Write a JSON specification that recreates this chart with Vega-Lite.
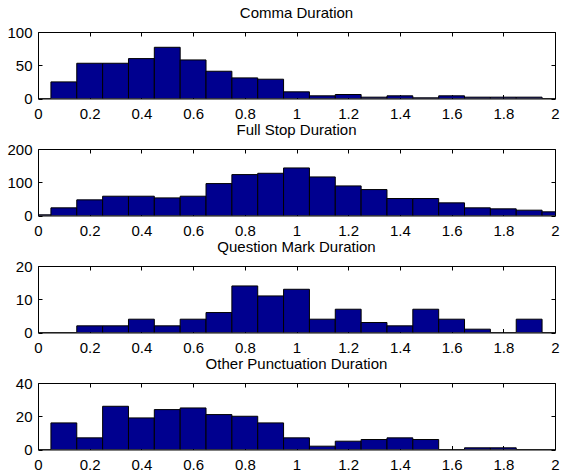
{
  "$schema": "https://vega.github.io/schema/vega-lite/v6.json",
  "padding": {"left": 6, "top": 5, "right": 4, "bottom": 4},
  "background": "#ffffff",
  "datasets": {
    "hist": [
      {"panel": "Comma", "lo": -0.05, "hi": 0.05, "count": 0},
      {"panel": "Comma", "lo": 0.05, "hi": 0.15, "count": 25},
      {"panel": "Comma", "lo": 0.15, "hi": 0.25, "count": 53},
      {"panel": "Comma", "lo": 0.25, "hi": 0.35, "count": 53},
      {"panel": "Comma", "lo": 0.35, "hi": 0.45, "count": 60},
      {"panel": "Comma", "lo": 0.45, "hi": 0.55, "count": 77},
      {"panel": "Comma", "lo": 0.55, "hi": 0.65, "count": 58},
      {"panel": "Comma", "lo": 0.65, "hi": 0.75, "count": 41},
      {"panel": "Comma", "lo": 0.75, "hi": 0.85, "count": 31},
      {"panel": "Comma", "lo": 0.85, "hi": 0.95, "count": 29},
      {"panel": "Comma", "lo": 0.95, "hi": 1.05, "count": 10},
      {"panel": "Comma", "lo": 1.05, "hi": 1.15, "count": 4},
      {"panel": "Comma", "lo": 1.15, "hi": 1.25, "count": 6},
      {"panel": "Comma", "lo": 1.25, "hi": 1.35, "count": 2},
      {"panel": "Comma", "lo": 1.35, "hi": 1.45, "count": 4},
      {"panel": "Comma", "lo": 1.45, "hi": 1.55, "count": 1},
      {"panel": "Comma", "lo": 1.55, "hi": 1.65, "count": 4},
      {"panel": "Comma", "lo": 1.65, "hi": 1.75, "count": 2},
      {"panel": "Comma", "lo": 1.75, "hi": 1.85, "count": 2},
      {"panel": "Comma", "lo": 1.85, "hi": 1.95, "count": 2},
      {"panel": "Comma", "lo": 1.95, "hi": 2.05, "count": 0},

      {"panel": "Full", "lo": -0.05, "hi": 0.05, "count": 2},
      {"panel": "Full", "lo": 0.05, "hi": 0.15, "count": 23},
      {"panel": "Full", "lo": 0.15, "hi": 0.25, "count": 47},
      {"panel": "Full", "lo": 0.25, "hi": 0.35, "count": 58},
      {"panel": "Full", "lo": 0.35, "hi": 0.45, "count": 58},
      {"panel": "Full", "lo": 0.45, "hi": 0.55, "count": 53},
      {"panel": "Full", "lo": 0.55, "hi": 0.65, "count": 58},
      {"panel": "Full", "lo": 0.65, "hi": 0.75, "count": 96},
      {"panel": "Full", "lo": 0.75, "hi": 0.85, "count": 123},
      {"panel": "Full", "lo": 0.85, "hi": 0.95, "count": 127},
      {"panel": "Full", "lo": 0.95, "hi": 1.05, "count": 143},
      {"panel": "Full", "lo": 1.05, "hi": 1.15, "count": 116},
      {"panel": "Full", "lo": 1.15, "hi": 1.25, "count": 89},
      {"panel": "Full", "lo": 1.25, "hi": 1.35, "count": 78},
      {"panel": "Full", "lo": 1.35, "hi": 1.45, "count": 51},
      {"panel": "Full", "lo": 1.45, "hi": 1.55, "count": 51},
      {"panel": "Full", "lo": 1.55, "hi": 1.65, "count": 38},
      {"panel": "Full", "lo": 1.65, "hi": 1.75, "count": 23},
      {"panel": "Full", "lo": 1.75, "hi": 1.85, "count": 20},
      {"panel": "Full", "lo": 1.85, "hi": 1.95, "count": 16},
      {"panel": "Full", "lo": 1.95, "hi": 2.05, "count": 11},

      {"panel": "Question", "lo": -0.05, "hi": 0.05, "count": 0},
      {"panel": "Question", "lo": 0.05, "hi": 0.15, "count": 0},
      {"panel": "Question", "lo": 0.15, "hi": 0.25, "count": 2},
      {"panel": "Question", "lo": 0.25, "hi": 0.35, "count": 2},
      {"panel": "Question", "lo": 0.35, "hi": 0.45, "count": 4},
      {"panel": "Question", "lo": 0.45, "hi": 0.55, "count": 2},
      {"panel": "Question", "lo": 0.55, "hi": 0.65, "count": 4},
      {"panel": "Question", "lo": 0.65, "hi": 0.75, "count": 6},
      {"panel": "Question", "lo": 0.75, "hi": 0.85, "count": 14},
      {"panel": "Question", "lo": 0.85, "hi": 0.95, "count": 11},
      {"panel": "Question", "lo": 0.95, "hi": 1.05, "count": 13},
      {"panel": "Question", "lo": 1.05, "hi": 1.15, "count": 4},
      {"panel": "Question", "lo": 1.15, "hi": 1.25, "count": 7},
      {"panel": "Question", "lo": 1.25, "hi": 1.35, "count": 3},
      {"panel": "Question", "lo": 1.35, "hi": 1.45, "count": 2},
      {"panel": "Question", "lo": 1.45, "hi": 1.55, "count": 7},
      {"panel": "Question", "lo": 1.55, "hi": 1.65, "count": 4},
      {"panel": "Question", "lo": 1.65, "hi": 1.75, "count": 1},
      {"panel": "Question", "lo": 1.75, "hi": 1.85, "count": 0},
      {"panel": "Question", "lo": 1.85, "hi": 1.95, "count": 4},
      {"panel": "Question", "lo": 1.95, "hi": 2.05, "count": 0},

      {"panel": "Other", "lo": -0.05, "hi": 0.05, "count": 0},
      {"panel": "Other", "lo": 0.05, "hi": 0.15, "count": 16},
      {"panel": "Other", "lo": 0.15, "hi": 0.25, "count": 7},
      {"panel": "Other", "lo": 0.25, "hi": 0.35, "count": 26},
      {"panel": "Other", "lo": 0.35, "hi": 0.45, "count": 19},
      {"panel": "Other", "lo": 0.45, "hi": 0.55, "count": 24},
      {"panel": "Other", "lo": 0.55, "hi": 0.65, "count": 25},
      {"panel": "Other", "lo": 0.65, "hi": 0.75, "count": 21},
      {"panel": "Other", "lo": 0.75, "hi": 0.85, "count": 20},
      {"panel": "Other", "lo": 0.85, "hi": 0.95, "count": 16},
      {"panel": "Other", "lo": 0.95, "hi": 1.05, "count": 7},
      {"panel": "Other", "lo": 1.05, "hi": 1.15, "count": 2},
      {"panel": "Other", "lo": 1.15, "hi": 1.25, "count": 5},
      {"panel": "Other", "lo": 1.25, "hi": 1.35, "count": 6},
      {"panel": "Other", "lo": 1.35, "hi": 1.45, "count": 7},
      {"panel": "Other", "lo": 1.45, "hi": 1.55, "count": 6},
      {"panel": "Other", "lo": 1.55, "hi": 1.65, "count": 0},
      {"panel": "Other", "lo": 1.65, "hi": 1.75, "count": 1},
      {"panel": "Other", "lo": 1.75, "hi": 1.85, "count": 1},
      {"panel": "Other", "lo": 1.85, "hi": 1.95, "count": 0},
      {"panel": "Other", "lo": 1.95, "hi": 2.05, "count": 0}
    ]
  },
  "data": {"name": "hist"},
  "spacing": 50,
  "bounds": "flush",
  "vconcat": [
    {
      "title": "Comma Duration",
      "width": 517, "height": 66.5,
      "transform": [{"filter": "datum.panel === 'Comma'"}],
      "layer": [
        {"mark": {"type": "bar", "clip": true, "fill": "#00008F", "stroke": "#000000", "strokeWidth": 1},
         "encoding": {
           "x": {"field": "lo", "type": "quantitative", "scale": {"domain": [0, 2], "nice": false, "zero": false}, "axis": {"orient": "bottom", "values": [0, 0.2, 0.4, 0.6, 0.8, 1, 1.2, 1.4, 1.6, 1.8, 2], "format": "~g"}},
           "x2": {"field": "hi"},
           "y": {"field": "count", "type": "quantitative", "scale": {"domain": [0, 100], "nice": false}, "axis": {"orient": "left", "values": [0, 50, 100]}},
           "y2": {"datum": 0}
         }},
        {"mark": {"type": "point", "opacity": 0, "clip": true},
         "encoding": {
           "x": {"field": "lo", "type": "quantitative", "axis": {"orient": "top", "values": [0, 0.2, 0.4, 0.6, 0.8, 1, 1.2, 1.4, 1.6, 1.8, 2], "labels": false}},
           "y": {"field": "count", "type": "quantitative", "axis": {"orient": "right", "values": [0, 50, 100], "labels": false}}
         }}
      ],
      "resolve": {"axis": {"x": "independent", "y": "independent"}}
    },
    {
      "title": "Full Stop Duration",
      "width": 517, "height": 66.5,
      "transform": [{"filter": "datum.panel === 'Full'"}],
      "layer": [
        {"mark": {"type": "bar", "clip": true, "fill": "#00008F", "stroke": "#000000", "strokeWidth": 1},
         "encoding": {
           "x": {"field": "lo", "type": "quantitative", "scale": {"domain": [0, 2], "nice": false, "zero": false}, "axis": {"orient": "bottom", "values": [0, 0.2, 0.4, 0.6, 0.8, 1, 1.2, 1.4, 1.6, 1.8, 2], "format": "~g"}},
           "x2": {"field": "hi"},
           "y": {"field": "count", "type": "quantitative", "scale": {"domain": [0, 200], "nice": false}, "axis": {"orient": "left", "values": [0, 100, 200]}},
           "y2": {"datum": 0}
         }},
        {"mark": {"type": "point", "opacity": 0, "clip": true},
         "encoding": {
           "x": {"field": "lo", "type": "quantitative", "axis": {"orient": "top", "values": [0, 0.2, 0.4, 0.6, 0.8, 1, 1.2, 1.4, 1.6, 1.8, 2], "labels": false}},
           "y": {"field": "count", "type": "quantitative", "axis": {"orient": "right", "values": [0, 100, 200], "labels": false}}
         }}
      ],
      "resolve": {"axis": {"x": "independent", "y": "independent"}}
    },
    {
      "title": "Question Mark Duration",
      "width": 517, "height": 66.5,
      "transform": [{"filter": "datum.panel === 'Question'"}],
      "layer": [
        {"mark": {"type": "bar", "clip": true, "fill": "#00008F", "stroke": "#000000", "strokeWidth": 1},
         "encoding": {
           "x": {"field": "lo", "type": "quantitative", "scale": {"domain": [0, 2], "nice": false, "zero": false}, "axis": {"orient": "bottom", "values": [0, 0.2, 0.4, 0.6, 0.8, 1, 1.2, 1.4, 1.6, 1.8, 2], "format": "~g"}},
           "x2": {"field": "hi"},
           "y": {"field": "count", "type": "quantitative", "scale": {"domain": [0, 20], "nice": false}, "axis": {"orient": "left", "values": [0, 10, 20]}},
           "y2": {"datum": 0}
         }},
        {"mark": {"type": "point", "opacity": 0, "clip": true},
         "encoding": {
           "x": {"field": "lo", "type": "quantitative", "axis": {"orient": "top", "values": [0, 0.2, 0.4, 0.6, 0.8, 1, 1.2, 1.4, 1.6, 1.8, 2], "labels": false}},
           "y": {"field": "count", "type": "quantitative", "axis": {"orient": "right", "values": [0, 10, 20], "labels": false}}
         }}
      ],
      "resolve": {"axis": {"x": "independent", "y": "independent"}}
    },
    {
      "title": "Other Punctuation Duration",
      "width": 517, "height": 66.5,
      "transform": [{"filter": "datum.panel === 'Other'"}],
      "layer": [
        {"mark": {"type": "bar", "clip": true, "fill": "#00008F", "stroke": "#000000", "strokeWidth": 1},
         "encoding": {
           "x": {"field": "lo", "type": "quantitative", "scale": {"domain": [0, 2], "nice": false, "zero": false}, "axis": {"orient": "bottom", "values": [0, 0.2, 0.4, 0.6, 0.8, 1, 1.2, 1.4, 1.6, 1.8, 2], "format": "~g"}},
           "x2": {"field": "hi"},
           "y": {"field": "count", "type": "quantitative", "scale": {"domain": [0, 40], "nice": false}, "axis": {"orient": "left", "values": [0, 20, 40]}},
           "y2": {"datum": 0}
         }},
        {"mark": {"type": "point", "opacity": 0, "clip": true},
         "encoding": {
           "x": {"field": "lo", "type": "quantitative", "axis": {"orient": "top", "values": [0, 0.2, 0.4, 0.6, 0.8, 1, 1.2, 1.4, 1.6, 1.8, 2], "labels": false}},
           "y": {"field": "count", "type": "quantitative", "axis": {"orient": "right", "values": [0, 20, 40], "labels": false}}
         }}
      ],
      "resolve": {"axis": {"x": "independent", "y": "independent"}}
    }
  ],
  "config": {
    "axis": {
      "grid": false,
      "domain": false,
      "title": null,
      "labelFont": "Liberation Sans",
      "labelFontSize": 15,
      "labelColor": "#000000",
      "tickColor": "#000000",
      "tickSize": 4,
      "tickWidth": 1,
      "offset": -4,
      "labelFlush": false,
      "labelOverlap": false,
      "minExtent": 0
    },
    "axisX": {"labelPadding": 8},
    "axisY": {"labelPadding": 6},
    "view": {"stroke": "#000000", "strokeWidth": 1},
    "title": {"font": "Liberation Sans", "fontSize": 15, "fontWeight": "normal", "color": "#000000", "offset": 4}
  }
}
